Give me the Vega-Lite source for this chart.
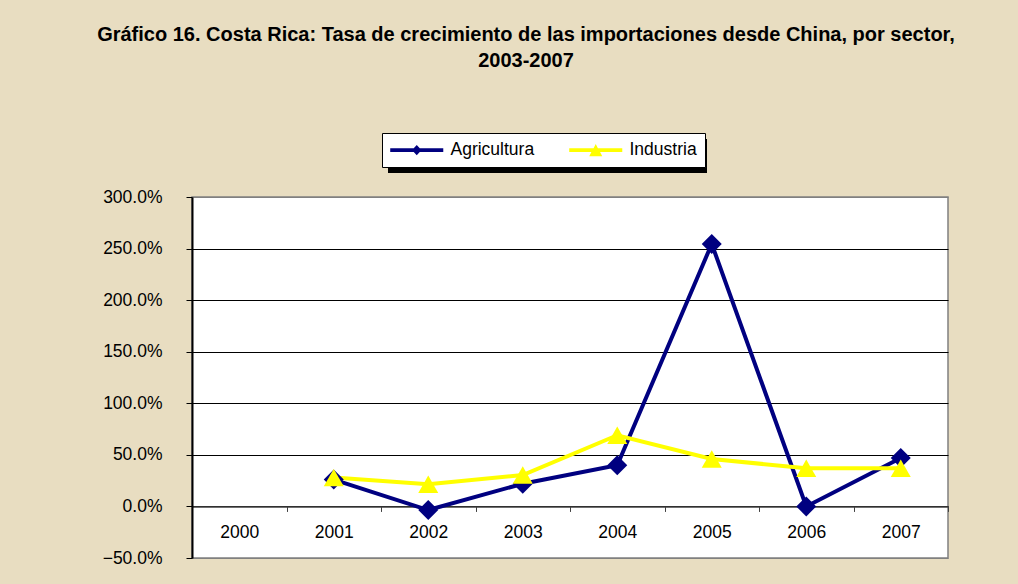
{
  "$schema": "https://vega.github.io/schema/vega-lite/v6.json",
  "width": 756,
  "height": 361,
  "autosize": {"type": "none"},
  "padding": {"left": 192, "top": 197, "right": 70, "bottom": 26},
  "background": "#E8DDC1",
  "title": {
    "text": ["Gráfico 16. Costa Rica: Tasa de crecimiento de las importaciones desde China, por sector,", "2003-2007"],
    "font": "Liberation Sans",
    "fontSize": 20,
    "fontWeight": "bold",
    "color": "#000000",
    "anchor": "middle",
    "frame": "group",
    "dx": -44,
    "dy": -19,
    "lineHeight": 26,
    "offset": 43
  },
  "config": {
    "view": {"fill": "#FFFFFF", "stroke": "#808080", "strokeWidth": 1.5},
    "font": "Liberation Sans"
  },
  "data": {
    "values": [
      {"year": "2001", "series": "Agricultura", "value": 0.26},
      {"year": "2002", "series": "Agricultura", "value": -0.035},
      {"year": "2003", "series": "Agricultura", "value": 0.22},
      {"year": "2004", "series": "Agricultura", "value": 0.40},
      {"year": "2005", "series": "Agricultura", "value": 2.545},
      {"year": "2006", "series": "Agricultura", "value": 0.0},
      {"year": "2007", "series": "Agricultura", "value": 0.47},
      {"year": "2001", "series": "Industria", "value": 0.28},
      {"year": "2002", "series": "Industria", "value": 0.215},
      {"year": "2003", "series": "Industria", "value": 0.305},
      {"year": "2004", "series": "Industria", "value": 0.69},
      {"year": "2005", "series": "Industria", "value": 0.46},
      {"year": "2006", "series": "Industria", "value": 0.37},
      {"year": "2007", "series": "Industria", "value": 0.37}
    ]
  },
  "encoding": {
    "x": {
      "field": "year",
      "type": "ordinal",
      "scale": {"type": "band", "domain": ["2000", "2001", "2002", "2003", "2004", "2005", "2006", "2007"], "paddingInner": 0, "paddingOuter": 0},
      "axis": {
        "title": null,
        "labelAngle": 0,
        "offset": -51.57,
        "tickBand": "extent",
        "domainColor": "#404040",
        "domainWidth": 1.5,
        "tickColor": "#404040",
        "tickSize": 5,
        "labelPadding": 12.5,
        "labelFontSize": 17.5,
        "labelColor": "#000000",
        "labelFont": "Liberation Sans",
        "grid": false
      }
    },
    "y": {
      "field": "value",
      "type": "quantitative",
      "scale": {"domain": [-0.5, 3], "nice": false, "zero": false},
      "axis": {
        "title": null,
        "values": [-0.5, 0, 0.5, 1, 1.5, 2, 2.5, 3],
        "format": ".1%",
        "grid": true,
        "gridColor": {"condition": {"test": "datum.value === 3 || datum.value === -0.5", "value": "#808080"}, "value": "#000000"},
        "gridWidth": 1.2,
        "gridOpacity": 1,
        "domainColor": "#000000",
        "domainWidth": 2,
        "tickColor": "#000000",
        "tickSize": 6,
        "labelPadding": 24,
        "labelFontSize": 17.5,
        "labelColor": "#000000",
        "labelFont": "Liberation Sans"
      }
    },
    "color": {
      "field": "series",
      "type": "nominal",
      "scale": {"domain": ["Agricultura", "Industria"], "range": ["#000080", "#FFFF00"]},
      "legend": {
        "title": null,
        "orient": "none",
        "direction": "horizontal",
        "legendX": 190,
        "legendY": -64,
        "zindex": 2,
        "fillColor": "#FFFFFF",
        "strokeColor": "#000000",
        "padding": 8,
        "labelFontSize": 17.5,
        "labelFont": "Liberation Sans",
        "labelColor": "#000000",
        "labelOffset": 25,
        "columnPadding": 34,
        "symbolSize": 289,
        "symbolOffset": 18,
        "symbolStrokeWidth": 0,
        "symbolOpacity": 1
      }
    }
  },
  "layer": [
    {
      "mark": {"type": "point", "filled": true, "opacity": 0},
      "encoding": {
        "color": {"value": "#000000"},
        "fill": {
          "field": "series",
          "type": "nominal",
          "scale": {"range": ["#000000", "#000000"]},
          "legend": {
            "title": null,
            "orient": "none",
            "direction": "horizontal",
            "legendX": 350.5,
            "legendY": -46,
            "zindex": 0,
            "values": ["Agricultura"],
            "labelExpr": "''",
            "labelFontSize": 1,
            "labelOffset": 0,
            "padding": 0,
            "symbolType": "M-31.9,-3.4 L31.9,-3.4 L31.9,3.4 L-31.9,3.4 Z",
            "symbolSize": 100,
            "symbolOffset": 0,
            "symbolStrokeWidth": 0,
            "symbolFillColor": "#000000",
            "symbolOpacity": 1
          }
        }
      }
    },
    {
      "mark": {"type": "line", "strokeWidth": 4}
    },
    {
      "transform": [{"filter": "datum.series == 'Agricultura'"}],
      "mark": {"type": "point", "shape": "diamond", "filled": true, "opacity": 1, "size": 400}
    },
    {
      "transform": [{"filter": "datum.series == 'Industria'"}],
      "mark": {"type": "point", "shape": "triangle-up", "filled": true, "opacity": 1, "size": 400}
    },
    {
      "transform": [{"filter": "datum.series == 'ninguna'"}],
      "mark": {"type": "point", "filled": true, "opacity": 1},
      "encoding": {
        "shape": {
          "field": "series",
          "type": "nominal",
          "scale": {
            "domain": ["Agricultura", "Industria"],
            "range": [
              "M-3.12,-0.235 L-0.355,-0.235 L0,-0.59 L0.355,-0.235 L3.12,-0.235 L3.12,0.235 L0.355,0.235 L0,0.59 L-0.355,0.235 L-3.12,0.235 Z",
              "M-3.12,-0.235 L-0.255,-0.235 L0,-0.706 L0.255,-0.235 L3.12,-0.235 L3.12,0.235 L0.51,0.235 L0.765,0.706 L-0.765,0.706 L-0.51,0.235 L-3.12,0.235 Z"
            ]
          },
          "legend": {
            "title": null,
            "orient": "none",
            "direction": "horizontal",
            "legendX": 190,
            "legendY": -64,
            "zindex": 2,
            "fillColor": "#FFFFFF",
            "strokeColor": "#000000",
            "padding": 8,
            "labelFontSize": 17.5,
            "labelFont": "Liberation Sans",
            "labelColor": "#000000",
            "labelOffset": 25,
            "columnPadding": 34,
            "symbolSize": 289,
            "symbolOffset": 18,
            "symbolStrokeWidth": 0,
            "symbolOpacity": 1
          }
        }
      }
    }
  ]
}
